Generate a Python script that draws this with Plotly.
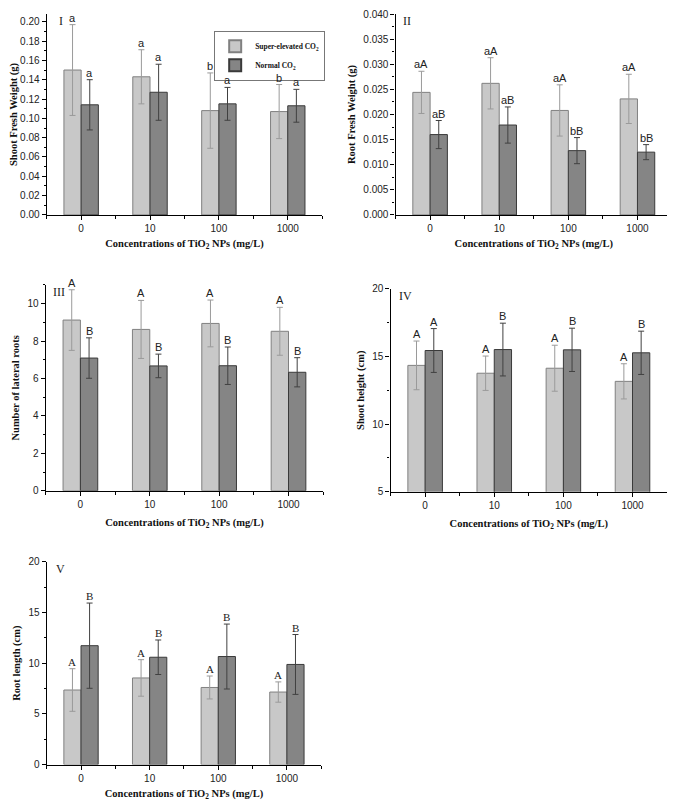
import plotly.graph_objects as go

categories = ["0", "10", "100", "1000"]
series_names = ["Super-elevated CO<sub>2</sub>", "Normal CO<sub>2</sub>"]

# Panel I - Shoot fresh weight (g)
sfw_super = [0.150, 0.143, 0.108, 0.107]
sfw_super_err = [0.047, 0.028, 0.039, 0.028]
sfw_normal = [0.114, 0.127, 0.115, 0.113]
sfw_normal_err = [0.026, 0.029, 0.017, 0.017]
sfw_letters_super = ["a", "a", "b", "b"]
sfw_letters_normal = ["a", "a", "a", "a"]

# Panel II - Root fresh weight (g)
rfw_super = [0.0244, 0.0262, 0.0208, 0.0231]
rfw_super_err = [0.0042, 0.0051, 0.0051, 0.0049]
rfw_normal = [0.0160, 0.0179, 0.0128, 0.0125]
rfw_normal_err = [0.0028, 0.0036, 0.0026, 0.0015]
rfw_letters_super = ["aA", "aA", "aA", "aA"]
rfw_letters_normal = ["aB", "aB", "bB", "bB"]

# Panel III - Number of lateral roots
nlr_super = [9.12, 8.62, 8.94, 8.52]
nlr_super_err = [1.62, 1.55, 1.25, 1.28]
nlr_normal = [7.09, 6.67, 6.68, 6.33]
nlr_normal_err = [1.08, 0.63, 1.0, 0.78]
nlr_letters_super = ["A", "A", "A", "A"]
nlr_letters_normal = ["B", "B", "B", "B"]

# Panel IV - Shoot height (cm)
sh_super = [14.34, 13.76, 14.13, 13.16]
sh_super_err = [1.8, 1.27, 1.7, 1.3]
sh_normal = [15.44, 15.51, 15.49, 15.27]
sh_normal_err = [1.62, 1.95, 1.6, 1.6]
sh_letters_super = ["A", "A", "A", "A"]
sh_letters_normal = ["A", "B", "B", "B"]

# Panel V - Root length (cm)
rl_super = [7.35, 8.54, 7.6, 7.15]
rl_super_err = [2.1, 1.8, 1.13, 1.0]
rl_normal = [11.72, 10.58, 10.65, 9.87]
rl_normal_err = [4.2, 1.7, 3.2, 2.95]
rl_letters_super = ["A", "A", "A", "A"]
rl_letters_normal = ["B", "B", "B", "B"]

panel_labels = ["I", "II", "III", "IV", "V"]
y_titles = ["Shoot Fresh Weight (g)", "Root Fresh Weight (g)", "Number of lateral roots",
            "Shoot height (cm)", "Root length (cm)"]
x_title = "Concentrations of TiO<sub>2</sub> NPs (mg/L)"

# page has an 8px body margin, so the figure is drawn 8px in from the corner
OFF = 8
W, H = 675 - OFF, 809 - OFF

def clamp(v):
    return max(0.0, min(1.0, v))

def fx(px):
    return clamp((px - OFF) / W)

def fy(py):
    return clamp(1 - (py - OFF) / H)

# pixel boxes in window coords: (left, right, top, bottom)
boxes = [
    (41, 319, 8, 212),
    (393, 672, 8, 212),
    (40, 320, 283, 492),
    (388, 667, 287, 493),
    (41, 318, 564, 770),
]
label_dx = [0.036, 0.018, 0.018, 0.025, 0.025]
title_standoff = [6, 6, 9, 9, 6]

panels = [
    (sfw_super, sfw_super_err, sfw_normal, sfw_normal_err, sfw_letters_super, sfw_letters_normal,
     [0, 0.208], 0.02, 0.01, ".2f", "sans"),
    (rfw_super, rfw_super_err, rfw_normal, rfw_normal_err, rfw_letters_super, rfw_letters_normal,
     [0, 0.040], 0.005, 0.0025, ".3f", "sans"),
    (nlr_super, nlr_super_err, nlr_normal, nlr_normal_err, nlr_letters_super, nlr_letters_normal,
     [0, 11], 2, 1, "", "sans"),
    (sh_super, sh_super_err, sh_normal, sh_normal_err, sh_letters_super, sh_letters_normal,
     [5, 20], 5, 2.5, "", "sans"),
    (rl_super, rl_super_err, rl_normal, rl_normal_err, rl_letters_super, rl_letters_normal,
     [0, 20], 5, 2.5, "", "serif"),
]

LIGHT = "#c8c8c8"
DARK = "#858585"
SANS = "Liberation Sans, Arial, sans-serif"
SERIF = "Liberation Serif, Times New Roman, serif"

fig = go.Figure()
annotations = []
xpos = list(range(len(categories)))
layout_axes = {}

for k, (sv, se, nv, ne, ls, ln, yr, dt, mdt, tf, lfont) in enumerate(panels):
    n = k + 1
    xa = "x" if n == 1 else f"x{n}"
    ya = "y" if n == 1 else f"y{n}"
    fig.add_trace(go.Bar(
        x=xpos, y=sv, name=series_names[0], xaxis=xa, yaxis=ya,
        marker=dict(color=LIGHT, line=dict(color="#808080", width=1)),
        error_y=dict(type="data", array=se, color="#9a9a9a", thickness=1, width=3),
        showlegend=(k == 0), offsetgroup="s", legendgroup="s",
    ))
    fig.add_trace(go.Bar(
        x=xpos, y=nv, name=series_names[1], xaxis=xa, yaxis=ya,
        marker=dict(color=DARK, line=dict(color="#3a3a3a", width=1)),
        error_y=dict(type="data", array=ne, color="#404040", thickness=1, width=3),
        showlegend=(k == 0), offsetgroup="n", legendgroup="n",
    ))
    l, r, t, b = boxes[k]
    xaxis_key = "xaxis" if n == 1 else f"xaxis{n}"
    yaxis_key = "yaxis" if n == 1 else f"yaxis{n}"
    layout_axes[xaxis_key] = dict(
        domain=[fx(l), fx(r)], anchor=ya, range=[-0.5, 3.5],
        tickmode="array", tickvals=xpos, ticktext=categories,
        showline=True, linecolor="black", linewidth=1.3, ticks="outside", ticklen=4,
        tickcolor="black", showgrid=False, zeroline=False,
        tickfont=dict(family=SANS, size=10, color="#222"),
        minor=dict(tickmode="linear", tick0=0.5, dtick=1, ticks="outside", ticklen=3,
                   tickcolor="black", showgrid=False),
        title=dict(text="<b>" + x_title + "</b>", font=dict(family=SERIF, size=10.5, color="#111"),
                   standoff=title_standoff[k]),
    )
    yargs = dict(
        domain=[fy(b), fy(t)], anchor=xa, range=yr, dtick=dt, tick0=yr[0],
        showline=True, linecolor="black", linewidth=1.3, ticks="outside", ticklen=4,
        tickcolor="black", showgrid=False, zeroline=False,
        tickfont=dict(family=SANS, size=10, color="#222"),
        minor=dict(dtick=mdt, ticks="outside", ticklen=2, tickcolor="black", showgrid=False),
        title=dict(text="<b>" + y_titles[k] + "</b>", font=dict(family=SERIF, size=10.5, color="#111"),
                   standoff=5),
    )
    if tf:
        yargs["tickformat"] = tf
    layout_axes[yaxis_key] = yargs

    # significance letters
    lf = SANS if lfont == "sans" else SERIF
    for i in range(len(categories)):
        annotations.append(dict(
            x=i - 0.125, y=sv[i] + se[i], xref=xa, yref=ya, text=ls[i], showarrow=False,
            yanchor="bottom", yshift=-1, font=dict(family=lf, size=11, color="#222"),
        ))
        annotations.append(dict(
            x=i + 0.125, y=nv[i] + ne[i], xref=xa, yref=ya, text=ln[i], showarrow=False,
            yanchor="bottom", yshift=-1, font=dict(family=lf, size=11, color="#222"),
        ))
    # panel label
    annotations.append(dict(
        x=label_dx[k], y=0.965, xref=f"{xa} domain", yref=f"{ya} domain", text=panel_labels[k],
        showarrow=False, xanchor="left", yanchor="middle",
        font=dict(family=SERIF, size=12, color="#222"),
    ))

fig.update_layout(
    width=W, height=H, margin=dict(l=0, r=0, t=0, b=0),
    paper_bgcolor="white", plot_bgcolor="white",
    barmode="group", bargap=0.5, bargroupgap=0,
    showlegend=True,
    legend=dict(
        x=fx(210), y=fy(25), xanchor="left", yanchor="top",
        bordercolor="#777", borderwidth=1, bgcolor="white",
        font=dict(family=SERIF, size=7.5, color="#111", weight="bold"),
        itemsizing="constant", tracegroupgap=0, itemwidth=30,
    ),
    annotations=annotations,
    **layout_axes,
)

fig.write_html("out.html")
